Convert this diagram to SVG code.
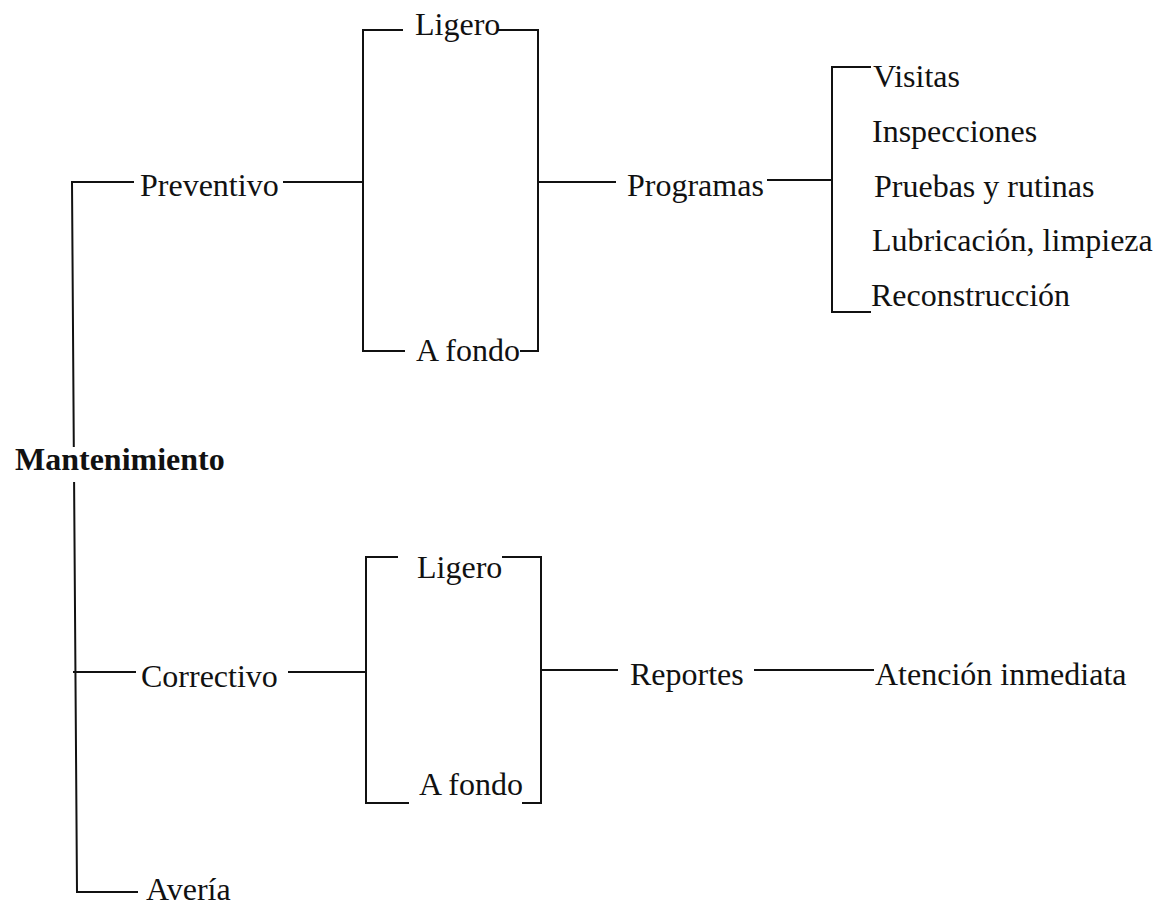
<svg xmlns="http://www.w3.org/2000/svg" width="1160" height="905" viewBox="0 0 1160 905">
  <style>
    .lbl { font-family: "Liberation Serif", "Times New Roman", serif; font-size: 32px; fill: #111; }
    .root { font-weight: bold; }
    .wire { fill: none; stroke: #111; stroke-width: 2; stroke-linecap: square; }
  </style>
  <rect width="1160" height="905" fill="#fff"/>

  <!-- connectors -->
  <g id="connectors" class="wire">
    <!-- main spine, broken around the root label -->
    <path d="M72,182 L73.8,446 M74.1,483 L77,892"/>
    <path d="M72,182 H133"/>
    <path d="M74,672 H135"/>
    <path d="M77,892 H137"/>

    <!-- preventivo branch -->
    <path d="M284,182 H363"/>
    <path d="M363,30 V351"/>
    <path d="M363,30 H402 M498,30 H538"/>
    <path d="M538,30 V351"/>
    <path d="M363,351 H404 M521,351 H538"/>
    <path d="M538,182 H615"/>
    <path d="M768,180 H832"/>
    <path d="M832,67 V312"/>
    <path d="M832,67 H870 M832,312 H870"/>

    <!-- correctivo branch -->
    <path d="M289,672 H366"/>
    <path d="M366,557 V803"/>
    <path d="M366,557 H397 M503,557 H541"/>
    <path d="M541,557 V803"/>
    <path d="M366,803 H408 M523,803 H541"/>
    <path d="M541,670 H617"/>
    <path d="M755,670 H873"/>
  </g>

  <!-- nodes -->
  <g id="mantenimiento"><text class="lbl root" x="15" y="470">Mantenimiento</text></g>
  <g id="preventivo"><text class="lbl" x="140" y="196">Preventivo</text></g>
  <g id="correctivo"><text class="lbl" x="141" y="687">Correctivo</text></g>
  <g id="averia"><text class="lbl" x="146" y="900">Avería</text></g>

  <g id="prev-ligero"><text class="lbl" x="415" y="35">Ligero</text></g>
  <g id="prev-afondo"><text class="lbl" x="416" y="361">A fondo</text></g>
  <g id="corr-ligero"><text class="lbl" x="417" y="578">Ligero</text></g>
  <g id="corr-afondo"><text class="lbl" x="419" y="795">A fondo</text></g>

  <g id="programas"><text class="lbl" x="627" y="196">Programas</text></g>
  <g id="reportes"><text class="lbl" x="630" y="685">Reportes</text></g>

  <g id="visitas"><text class="lbl" x="873" y="87">Visitas</text></g>
  <g id="inspecciones"><text class="lbl" x="872" y="142">Inspecciones</text></g>
  <g id="pruebas"><text class="lbl" x="874" y="197">Pruebas y rutinas</text></g>
  <g id="lubricacion"><text class="lbl" x="872" y="251">Lubricación, limpieza</text></g>
  <g id="reconstruccion"><text class="lbl" x="871" y="306">Reconstrucción</text></g>
  <g id="atencion"><text class="lbl" x="875" y="685">Atención inmediata</text></g>
</svg>
